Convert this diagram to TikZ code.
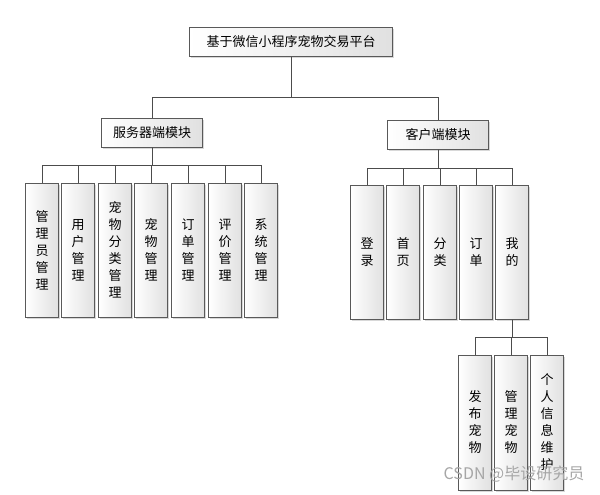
\documentclass[tikz,border=0pt]{standalone}
\usepackage{fontspec}
\setmainfont{Noto Sans CJK SC}
\usetikzlibrary{shadows}
\tikzset{
  box/.style={draw=black!65, left color=white, right color=black!12, drop shadow={shadow xshift=1.5pt, shadow yshift=-1.5pt, fill=black!30},
    font=\fontsize{13}{17}\selectfont, align=center, inner sep=0pt},
  hbox/.style={box, minimum width=101pt, minimum height=29pt},
  vbox/.style={box, minimum width=33pt, minimum height=134pt},
  link/.style={draw=black!70, thick}
}
\begin{document}
\begin{tikzpicture}[x=1pt, y=-1pt]
    \useasboundingbox (0, 0) rectangle (600, 495);

    \node[hbox, minimum width=203pt] (root) at (291, 42) {基于微信小程序宠物交易平台};
    \node[hbox] (server) at (152, 133) {服务器端模块};
    \node[hbox] (client) at (438, 135) {客户端模块};

    % server side
    \node[vbox] (admin) at (42, 250) {管\\理\\员\\管\\理};
    \node[vbox] (user) at (78, 250) {用\\户\\管\\理};
    \node[vbox] (petcat) at (115, 250) {宠\\物\\分\\类\\管\\理};
    \node[vbox] (pet) at (151, 250) {宠\\物\\管\\理};
    \node[vbox] (order) at (188, 250) {订\\单\\管\\理};
    \node[vbox] (review) at (225, 250) {评\\价\\管\\理};
    \node[vbox] (system) at (261, 250) {系\\统\\管\\理};

    % client side
    \node[vbox] (login) at (367, 252.5) {登\\录};
    \node[vbox] (home) at (403, 252.5) {首\\页};
    \node[vbox] (category) at (440, 252.5) {分\\类};
    \node[vbox] (myorder) at (476, 252.5) {订\\单};
    \node[vbox] (mine) at (512, 252.5) {我\\的};

    % sub items of mine
    \node[vbox, minimum height=135pt] (publish) at (475, 422.5) {发\\布\\宠\\物};
    \node[vbox, minimum height=135pt] (mypets) at (511, 422.5) {管\\理\\宠\\物};
    \node[vbox, minimum height=135pt] (profile) at (547, 422.5) {个\\人\\信\\息\\维\\护};

    % connectors
    \draw[link] (root.south) -- ++(0, 41) coordinate (bus1);
    \foreach \n in {server, client}
        \draw[link] (bus1) -| (\n.north);
    \foreach \n in {admin, user, petcat, pet, order, review, system}
        \draw[link] (server.south) -- ++(0, 18) -| (\n.north);
    \foreach \n in {login, home, category, myorder, mine}
        \draw[link] (client.south) -- ++(0, 19) -| (\n.north);
    \foreach \n in {publish, mypets, profile}
        \draw[link] (mine.south) -- ++(0, 18) -| (\n.north);

    \node[text=black!35, font=\fontsize{16}{16}\selectfont] (mark) at (514, 474) {CSDN @毕设研究员};
\end{tikzpicture}
\end{document}
